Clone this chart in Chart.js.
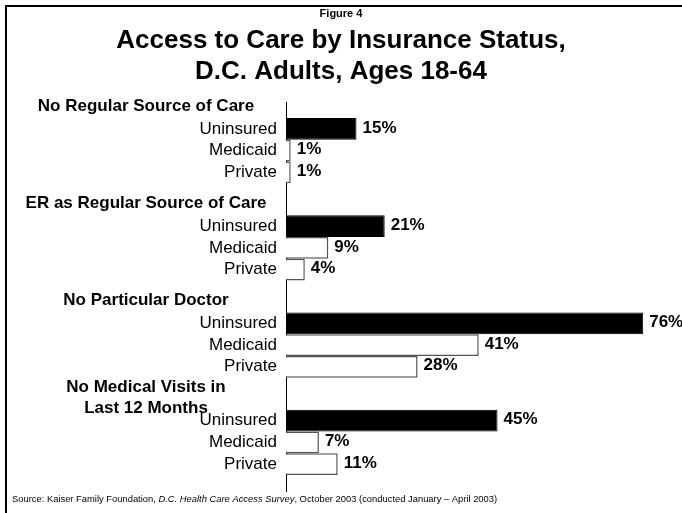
<!DOCTYPE html>
<html>
<head>
<meta charset="utf-8">
<script src="https://cdn.jsdelivr.net/npm/chart.js@4"></script>
<style>
  html, body { margin: 0; padding: 0; background: #fff; }
  #wrap { width: 682px; height: 513px; position: relative; }
  canvas { display: block; }
</style>
</head>
<body>
<div id="wrap"><canvas id="c" width="682" height="513"></canvas></div>
<script>
// ---- data ----
const groups = [
  ['No Regular Source of Care'],
  ['ER as Regular Source of Care'],
  ['No Particular Doctor'],
  ['No Medical Visits in', 'Last 12 Months']
];
const seriesNames = ['Uninsured', 'Medicaid', 'Private'];
const uninsured = [15, 21, 76, 45];
const medicaid  = [1, 9, 41, 7];
const privateIns = [1, 4, 28, 11];
const figureLabel = 'Figure 4';
const titleLines = ['Access to Care by Insurance Status,', 'D.C. Adults, Ages 18-64'];
const sourceParts = [
  ['Source: Kaiser Family Foundation, ', false],
  ['D.C. Health Care Access Survey', true],
  [', October 2003 (conducted January \u2013 April 2003)', false]
];

const FONT = '"Liberation Sans", Arial, Helvetica, sans-serif';

const decorPlugin = {
  id: 'decor',
  afterDraw(chart) {
    const ctx = chart.ctx;
    const area = chart.chartArea;
    ctx.save();
    // frame
    ctx.fillStyle = '#000';
    ctx.fillRect(5, 5, 682, 2);
    ctx.fillRect(5, 5, 2, 513);
    // figure label & title
    ctx.textAlign = 'center';
    ctx.textBaseline = 'middle';
    ctx.font = 'bold 11px ' + FONT;
    ctx.fillText(figureLabel, 341, 14);
    ctx.font = 'bold 26px ' + FONT;
    ctx.fillText(titleLines[0], 341, 41);
    ctx.fillText(titleLines[1], 341, 72);

    // bar labels, group headers, value labels
    const metas = [0, 1, 2].map(i => chart.getDatasetMeta(i));
    const headerX = (6 + area.left) / 2;
    groups.forEach((lines, gi) => {
      const topBar = metas[0].data[gi];
      const barTop = topBar.y - topBar.height / 2;
      const blockCenter = barTop - 12;
      const lh = 21;
      ctx.font = 'bold 17px ' + FONT;
      ctx.textAlign = 'center';
      lines.forEach((ln, li) => {
        const y = blockCenter + (li - (lines.length - 1) / 2) * lh;
        ctx.fillText(ln, headerX, y);
      });
      metas.forEach((m, si) => {
        const el = m.data[gi];
        ctx.font = '17px ' + FONT;
        ctx.textAlign = 'right';
        ctx.fillText(seriesNames[si], area.left - 9, el.y);
        ctx.font = 'bold 17px ' + FONT;
        ctx.textAlign = 'left';
        const v = chart.data.datasets[si].data[gi];
        ctx.fillText(v + '%', el.x + 6, el.y - 1);
      });
    });

    // source
    ctx.textAlign = 'left';
    ctx.textBaseline = 'middle';
    let x = 12;
    sourceParts.forEach(([t, it]) => {
      ctx.font = (it ? 'italic ' : '') + '9.4px ' + FONT;
      ctx.fillText(t, x, 499);
      x += ctx.measureText(t).width;
    });
    ctx.restore();
  }
};

new Chart(document.getElementById('c'), {
  type: 'bar',
  data: {
    labels: groups.map(g => g.join(' ')),
    datasets: [
      { label: seriesNames[0], data: uninsured, backgroundColor: '#000', borderColor: '#000', borderWidth: 1 },
      { label: seriesNames[1], data: medicaid, backgroundColor: '#fff', borderColor: '#555', borderWidth: 1.5 },
      { label: seriesNames[2], data: privateIns, backgroundColor: '#fff', borderColor: '#555', borderWidth: 1.5 }
    ]
  },
  options: {
    indexAxis: 'y',
    responsive: false,
    animation: false,
    devicePixelRatio: 1,
    layout: { padding: { left: 286, right: 20, top: 102, bottom: 22 } },
    datasets: { bar: { categoryPercentage: 0.669, barPercentage: 1.0 } },
    plugins: { legend: { display: false }, tooltip: { enabled: false } },
    scales: {
      x: { display: false, min: 0, max: 80 },
      y: {
        display: true,
        grid: { display: false },
        border: { display: true, color: '#000', width: 1 },
        ticks: { display: false },
        afterFit(s) { s.width = 0; }
      }
    }
  },
  plugins: [decorPlugin]
});
</script>
</body>
</html>
